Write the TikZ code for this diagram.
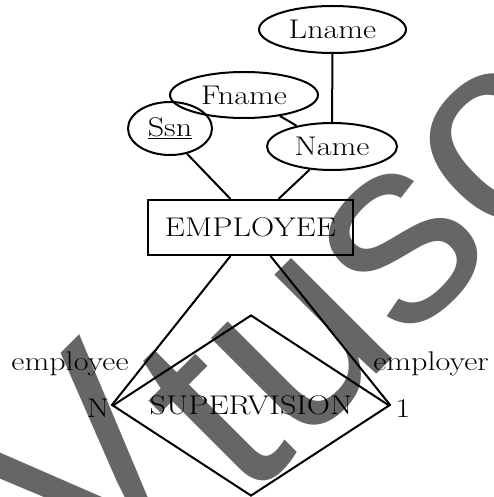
\documentclass[tikz,border=0pt]{standalone}
\usepackage{fontspec}
\usepackage{graphicx}
\newfontfamily\wmfont{Liberation Sans}
\usetikzlibrary{shapes.geometric}
\definecolor{wmgray}{RGB}{102,102,102}
\newcommand{\widetext}[1]{\scalebox{1.19}[1]{#1}}
\begin{document}
\begin{tikzpicture}[x=1pt,y=-1pt,line width=2pt,
  txt/.style={font=\fontsize{27}{31}\selectfont},
  attr/.style={draw,ellipse,inner sep=0pt,txt},
  entity/.style={draw,rectangle,inner sep=0pt,txt},
  rel/.style={draw,diamond,inner sep=0pt,txt},
  lbl/.style={inner sep=0pt,anchor=base,txt},
  wmark/.style={rotate=45,anchor=base west,inner sep=0pt,text=wmgray,
    font=\wmfont\fontsize{269}{269}\selectfont}]
\useasboundingbox (0,0) rectangle (493,497);
\fill[white] (0,0) rectangle (493,497);
% watermark
\begin{scope}
\clip (0,0) rectangle (493,497);
\node[wmark] (wmv) at (84,592) {V};
\node[wmark] (wmt) at (246,505) {tuso};
\end{scope}
% attributes
\node[attr,minimum width=147pt,minimum height=47pt] (lname) at (332.5,29.5) {\widetext{Lname}};
\node[attr,minimum width=148pt,minimum height=46pt] (fname) at (244,95) {\widetext{Fname}};
\node[attr,minimum width=84pt,minimum height=53pt] (ssn) at (170,128.5) {\widetext{\underline{Ssn}}};
\node[attr,minimum width=130pt,minimum height=47pt] (name) at (332,146.5) {\widetext{Name}};
% entity
\node[entity,minimum width=205pt,minimum height=55pt] (emp) at (250.5,227.5) {\widetext{EMPLOYEE}};
% relationship
\node[rel,aspect=1.53,minimum width=277pt,minimum height=181pt] (sup) at (251,405.5) {\widetext{SUPERVISION}};
% connectors
\draw (lname) -- (name);
\draw (fname) -- (name);
\draw (ssn.-56) -- ([xshift=-20pt]emp.north);
\draw (name.-134) -- ([xshift=28pt]emp.north);
\draw ([xshift=-20pt]emp.south) -- (sup.west);
\draw ([xshift=20pt]emp.south) -- (sup.east);
% labels
\node[lbl] (lee) at (70,370) {\widetext{employee}};
\node[lbl] (ler) at (431,370) {\widetext{employer}};
\node[lbl] (ln) at (98,417) {\widetext{N}};
\node[lbl] (l1) at (403,417) {\widetext{1}};
\end{tikzpicture}
\end{document}
